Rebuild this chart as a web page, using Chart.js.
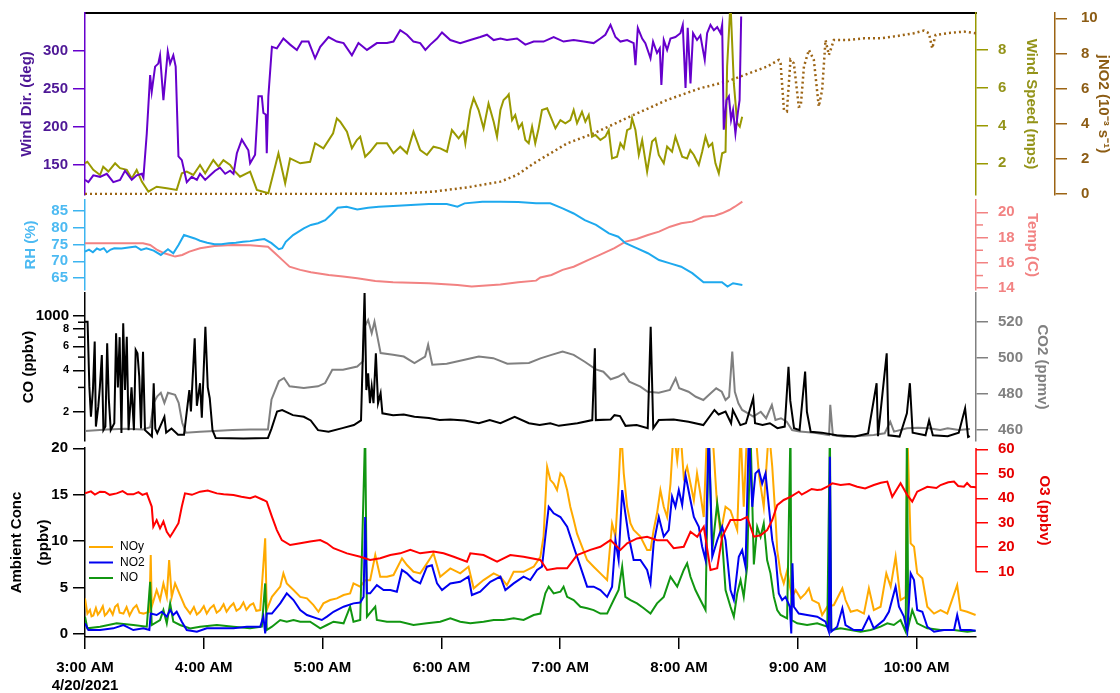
<!DOCTYPE html>
<html>
<head>
<meta charset="utf-8">
<title>Met + trace gases, 4/20/2021</title>
<script src="https://cdn.jsdelivr.net/npm/chart.js@4.4.1/dist/chart.umd.min.js"></script>
<style>
  body { margin: 0; background: #fff; }
  #wrap { position: relative; width: 1120px; height: 693px; }
  #wrap canvas { position: absolute; left: 0; top: 0; }
</style>
</head>
<body>
<div id="wrap">
  <canvas id="windChart" width="1120" height="693"></canvas>
  <canvas id="rhChart" width="1120" height="693"></canvas>
  <canvas id="coChart" width="1120" height="693"></canvas>
  <canvas id="concChart" width="1120" height="693"></canvas>
</div>
<script>
// x values are minutes after 3:00 AM
const tickMinutes = [0, 60, 120, 180, 240, 300, 360, 420];
const timeLabels = ['3:00 AM', '4:00 AM', '5:00 AM', '6:00 AM', '7:00 AM', '8:00 AM', '9:00 AM', '10:00 AM'];
const dateLabel = '4/20/2021';

// tick labels per axis
const windDirTicks = [150, 200, 250, 300];
const windSpeedTicks = [2, 4, 6, 8];
const jno2Ticks = [0, 2, 4, 6, 8, 10];
const rhTicks = [65, 70, 75, 80, 85];
const tempTicks = [14, 16, 18, 20];
const tempMinor = [15, 17, 19];
const coTicks = [200, 400, 600, 800, 1000];
const coTickLabels = ['2', '4', '6', '8', '1000'];
const coMinor = [300, 500, 700, 900];
const co2Ticks = [460, 480, 500, 520];
const concTicks = [0, 5, 10, 15, 20];
const o3Ticks = [10, 20, 30, 40, 50, 60];
const legendNames = ['NOy', 'NO2', 'NO'];

// panel 1 - wind dir (deg), wind speed (mps), jNO2 (1e-3 /s)
const windDir = [[0,130],[1.7,127],[4.2,136],[7.6,134],[11,138],[14.3,127],[17.7,130],[20.2,142],[23.6,130],[26.1,136],[28.7,138],[29.5,133],
  [31.2,191],[32.9,268],[33.7,246],[35.4,279],[37,283],[37.9,294],[39.6,235],[41.8,299],[43,283],[44.6,294],[45.8,279],[47.2,161],[48.9,156],[51.4,127],
  [53.9,134],[56.5,130],[58.1,138],[60.7,130],[63.2,136],[65.7,142],[68.2,146],[70.8,138],[73.3,142],[75,138],
  [76.7,165],[79.2,183],[82.5,169],[83.4,152],[85.9,163],[87.6,240],[89.3,240],[90.1,218],[91.3,216],[91.8,165],[92.6,240],[94.4,305],
  [96.9,303],[100.2,316],[103.6,308],[107,301],[109.5,312],[112.9,312],[116.2,290],[118.8,305],[123,318],[127.2,312],[130.6,310],[134.8,294],[138.1,310],[142.4,301],[147.4,310],[152.5,310],[155.8,312],[159.2,327],[162.6,321],[165.9,312],[169.3,310],
  [171.9,301],[174.4,308],[177.8,316],[180.3,324],[184.5,314],[189.5,310],[194.6,314],[199.6,318],[203,321],[206.4,314],[209.8,316],[213.1,314],[218.2,316],[222.4,308],[226.6,312],[231.6,312],[236.7,318],[241.7,312],[246.8,314],[251.9,312],[256.9,310],[260.3,316],[262.8,321],[265.4,334],[267.9,318],[270.4,312],[273.8,314],[277.1,310],
  [278,281],[279.2,330],[281.4,316],[283,310],[284.7,297],[285.6,290],[286.9,312],[288.9,297],[290.3,303],[291.1,255],[292.3,314],[294,301],[295.7,316],[298.2,318],[300.7,323],[301.9,334],[303.3,251],[304.4,330],[305.8,257],[307.1,323],[309.1,314],[310.8,320],[313,288],[314.2,323],[315.9,334],[317.6,327],[319.3,331],[321,323],[321.8,334],[322.6,196],[324,235],[325.2,240],[326.3,209],[327.3,222],[328.5,191],[329.7,218],[330.6,235],[331.4,345]];

const windSpeed = [[0,2.0],[1.2,2.08],[4.2,1.65],[7.6,1.38],[9.2,1.82],[11.8,1.56],[15.2,2.0],[17.7,1.74],[21.1,1.65],[23.6,1.2],[26.1,1.65],[28.7,1.03],[32,0.5],[36.2,0.76],[41.3,0.68],[46.3,0.59],[48.9,1.47],[51.4,1.56],[54.7,1.38],[58.1,1.91],[60.7,1.47],[64.8,2.17],[67.4,1.82],[69.9,2.17],[73.3,1.91],[75,1.65],[78.3,1.29],[83.4,1.56],[86.8,0.59],[92.6,0.41],[97.7,2.53],[101.1,0.94],[103.6,2.26],[108.7,2.0],[113.7,2.08],[116.2,3.06],[120.4,2.79],[125.3,3.59],[127.2,4.38],[128.9,4.2],[132.3,3.67],[134.8,2.79],[137.3,3.23],[139,3.41],[141.5,2.35],[144,2.61],[147.4,3.06],[152.5,3.06],[155.8,2.53],[159.2,2.88],[162.6,2.53],[165.9,3.67],[169.3,2.7],
  [172.7,2.44],[176,2.88],[179.4,2.79],[182.8,2.61],[185.3,3.76],[188.7,3.32],[191.2,3.67],[192.1,3.06],[194.6,4.82],[196.3,5.44],[198.8,4.82],[201.3,3.85],[203.8,5.17],[206.4,4.2],[208.1,3.41],[209.8,4.82],[211.4,5.35],[213.1,5.52],[214,5.65],[215.7,4.29],[217.3,4.56],[219,3.85],[220.7,4.12],[222.4,3.23],[224.1,3.06],[225.8,3.94],[227.4,3.06],[229.1,3.85],[230.8,4.82],[233.4,4.91],[235.9,4.29],[237.6,3.85],[240.1,4.29],[242.6,4.12],[245.1,4.29],[246.8,4.82],[248.5,4.12],[251,4.73],[252.7,4.2],[254.4,4.56],[256.1,3.41],[257.8,3.5],[260.3,3.23],[262.8,3.41],[264.5,3.76],[266.2,2.26],[268.7,2.35],[270.4,3.06],[272.1,2.79],[273.8,3.76],[275.5,3.85],[276.3,4.38],[278,3.76],[279.7,2.44],[281.4,3.23],[283.9,1.56],[286.4,3.15],[288.1,3.32],[289.8,2.44],[292.3,2.0],[294,2.88],[296.5,2.61],[298.2,3.41],[299.9,2.88],[301.6,2.35],[304.1,2.26],[305.7,2.7],[307.5,2.44],[310,1.91],[311.7,2.61],[313.4,3.41],[315,2.88],[316.8,3.06],[318.4,2.0],[320.1,1.47],[321.8,2.53],[323.5,2.61],[324.3,7.12],[326,10.5],[327.7,6.23],[329.4,4.13],[330.7,3.94],[331.9,4.47]];

const jno2 = [[0,0],[60,0],[120,0],[159.2,0.02],[176,0.13],[192.9,0.37],[209.8,0.7],[218.2,1.08],[226.6,1.74],[243.5,2.88],[257,3.45],[277.1,4.5],[294,5.35],[310.8,6.02],[324.3,6.4],[344.5,7.25],[350.4,7.63],[351.3,7.44],[353,4.78],[354.5,4.7],[356.3,7.63],[358,7.44],[360.5,4.97],[361.5,5.0],[363.1,7.25],[365.6,8.2],[368.1,7.63],[370.6,4.97],[372.3,5.92],[374,8.76],[375.7,7.91],[378.2,8.76],[385,8.76],[393.4,8.86],[401.8,8.86],[410.3,8.99],[418.6,9.15],[423.7,9.3],[426.2,9.15],[427.9,8.29],[429.6,9.05],[435.5,9.15],[443.9,9.24],[450,9.15]];

// panel 2 - RH (%), temp (C)
const rh = [[0,72.9],[2,73.5],[4,72.7],[6,73.8],[7.6,73.4],[9.5,73.9],[11.1,72.7],[13,73.5],[14.8,73.9],[18.4,73.8],[22,74.1],[25.6,74.4],[28.3,73.4],[31,73.9],[34.7,73.2],[38.3,71.9],[41.9,73.6],[44.6,72.4],[47.3,74.9],[50,77.8],[52.7,77.3],[55.4,76.8],[58.1,76.1],[61.7,75.5],[65.4,75.1],[68.9,75.1],[72.6,75.4],[76.2,75.5],[79.8,75.8],[83.4,76],[87,76.3],[90.6,76.6],[94.2,75.4],[97.9,73.6],[99.6,73.9],[101.4,75.8],[105.1,77.8],[110.5,79.8],[114.1,80.8],[117.7,81.3],[121.3,82.2],[124.9,84.2],[127.6,85.9],[132.1,86.2],[137.5,85.4],[143,85.9],[148.4,86.2],[155.6,86.4],[164.6,86.7],[173.7,87],[182.7,87],[188.1,86.2],[191.7,87.2],[200.7,87.7],[209.8,87.7],[218.8,87.6],[227.8,87.2],[235,87.2],[241.2,85.7],[246.8,84.2],[252.4,82.2],[258.1,80.8],[264.6,78.3],[269.3,77.3],[273,75.4],[278.6,73.9],[284.3,72.4],[289.9,70.4],[295.5,69.4],[301.1,68.4],[306.7,66.5],[312.4,63.8],[318,63.8],[321.7,63.8],[324.5,62.5],[327.3,63.5],[332,63]];

const temp = [[0,17.55],[29.3,17.55],[32.9,17.42],[36.5,17.02],[40.1,16.76],[45.5,16.5],[49.1,16.63],[52.7,16.89],[58.1,17.16],[65.4,17.34],[74.4,17.42],[83.4,17.4],[92.4,17.28],[96,16.76],[99.6,16.24],[103.3,15.7],[108.7,15.45],[114.1,15.26],[123.1,15.05],[130.3,14.92],[137.5,14.79],[146.6,14.58],[155.6,14.47],[173.7,14.4],[188.1,14.26],[195.3,14.13],[200.7,14.2],[209.8,14.3],[218.8,14.47],[227.8,14.6],[230,14.85],[235.6,15.05],[241.2,15.45],[246.8,15.7],[254.3,16.24],[260,16.63],[267.4,17.16],[273,17.68],[278.6,17.89],[284.3,18.21],[289.9,18.47],[295.5,18.86],[301.1,19.13],[306.7,19.26],[312.4,19.65],[318,19.73],[321.7,19.92],[325.4,20.18],[328.2,20.44],[332,20.84]];

// panel 3 - CO (ppbv, log axis), CO2 (ppmv)
const co = [[0,908],[1.3,908],[2.2,304],[3,183],[4,287],[4.9,650],[5.5,155],[6.7,217],[7.5,300],[8.5,518],[9.3,146],[10.3,155],[11.2,631],[12,250],[13,146],[14.8,164],[15.7,747],[16.6,300],[17.5,700],[18.4,139],[19.3,884],[20.2,287],[21.1,705],[22,146],[23.5,300],[24.7,146],[25.6,564],[26.5,533],[27.4,359],[28.3,150],[29.3,548],[30.3,146],[31.9,139],[33.8,131],[34.7,322],[35.5,150],[36.5,139],[40.1,183],[41,140],[43.7,150],[47,135],[50,135],[52.7,287],[53.5,200],[55.4,687],[56.5,220],[58.1,322],[59,180],[60.8,835],[62,300],[63,250],[64.4,146],[66,128],[80,127],[92.4,128],[94.2,150],[97,200],[99.6,205],[105,188],[110.5,183],[114,172],[117.7,146],[123,142],[130,151],[135.8,159],[139.4,172],
  [141.2,1500],[142.1,287],[143,380],[143.9,230],[144.8,304],[145.7,230],[146.9,533],[148,230],[149.3,272],[150.2,194],[155.6,188],[161,190],[166.4,183],[173.7,179],[179.1,173],[184.5,175],[191.7,172],[198.9,164],[204.4,173],[209.8,164],[217,183],[224.2,164],[229.6,159],[235,164],[239.3,157],[248.7,164],[256.2,173],[257.5,580],[258,173],[265.5,175],[267.4,188],[270.2,185],[273,157],[278.6,159],[284.2,151],[285.7,835],[287,151],[289.8,173],[297.3,175],[304.8,168],[312.3,159],[317.9,205],[320,190],[323.5,200],[326.3,164],[327.2,205],[331,159],[333.8,164],[337.5,250],[338.4,164],[342.2,159],[345.9,164],[349.7,151],[353.4,155],[355.3,425],[356.2,240],[358.1,151],[360.9,146],[363.7,392],[364.6,199],[366.5,142],[372.1,140],[379.6,134],[388.9,131],[395.5,138],[399.8,322],[400.5,132],[404.9,533],[405.8,134],[411.4,131],[415.1,194],[416.6,322],[418,140],[424.5,134],[426.3,172],[428.2,134],[435.7,132],[441.3,140],[444.5,211],[446,130],[446.9,132]];

const co2 = [[0,459.4],[11.2,460.3],[20.2,460.7],[29.3,460.3],[32.9,461.5],[34.7,475],[36.5,478.7],[38.3,480.6],[40.1,475],[41.9,480.6],[45.5,479.5],[47.3,475],[49.1,464],[50.9,458.5],[58.1,459],[65.4,459.4],[74.4,460],[83.4,460.3],[92.4,460.3],[94.2,476.9],[97.9,487],[100.5,488.8],[103.3,484.2],[110.5,483.3],[117.7,484.2],[121.3,486],[124.9,493.4],[130.3,493.4],[137.5,495.2],[140.3,498],[141.2,517.2],[143,521],[144.8,513.6],[146.2,520],[147.5,512.7],[149.3,502.6],[155.6,501.7],[161,500.7],[166.4,497.1],[171.8,500.7],[173.3,507.2],[175.4,496.2],[182.7,496.7],[191.7,498.9],[198.9,500.7],[206.2,499.8],[213.3,496.7],[224.2,497.1],[230,499.7],[235.6,501.6],[241.2,503.4],[246.8,501.6],[252.4,497.8],[258,493.6],[261.8,492.3],[265.5,488.1],[269.2,489.5],[272.1,491.4],[274.9,486.8],[280.5,484],[284.2,481.2],[289.8,480.7],[295.4,482.2],[298.3,488.6],[300.1,483.1],[304.8,481.2],[308.5,478.4],[312.3,476.6],[316,480.3],[318.8,483.1],[321.6,481.2],[323.5,476.6],[325.3,478.4],[326.9,503.4],[328.2,481.2],[330,474.8],[331.9,471.1],[334.7,469.3],[337.5,467.4],[341.3,470.1],[344,466.5],[346.9,473.9],[348.7,465.5],[351.5,466.5],[354.4,464.6],[357.1,460],[360.9,459.1],[368.4,458.5],[375.8,457.2],[376.4,473.9],[377.7,457.2],[383.3,456.3],[390.8,456.7],[398.3,457.2],[403.9,458.2],[406.7,464.6],[408.6,459.1],[415.1,461],[420.7,461.3],[426.3,461],[431.9,460],[435.7,461],[441.3,460],[446.9,460.5]];

// panel 4 - NOy, NO2, NO (ppbv), O3 (ppbv)
const noy = [[0,3.84],[1.2,2.2],[2.5,2.6],[3.3,1.9],[4.2,2.0],[5.5,2.8],[6.5,2.1],[7.6,2.4],[9,3.0],[10,2.0],[11,2.2],[12.5,2.7],[14,2.1],[15.2,2.94],[16.5,3.2],[17.5,2.3],[19.4,2.2],[21,2.9],[22.5,2.0],[24.4,2.77],[26,3.1],[27.5,2.3],[29.5,2.2],[32.5,2.4],[33.2,8.5],[33.7,2.94],[36.2,4.74],[37.9,3.66],[39.6,5.45],[41.3,4.0],[42.5,7.97],[43.8,4.0],[45.5,5.45],[48,4.2],[50.5,2.94],[53.1,2.2],[55,2.9],[56.5,2.1],[58.1,2.4],[60,3.0],[61.5,2.2],[63.2,2.77],[65,3.1],[66.5,2.3],[68.2,2.58],[70,3.2],[71.5,2.4],[73.3,2.94],[75,3.3],[76.5,2.5],[78.3,2.77],[80,3.4],[81.5,2.6],[83.4,3.12],[85,3.3],[86.5,2.5],[88.5,2.58],[91,10.3],[91.8,2.58],[94.4,4.0],[98.6,5.1],[100.2,6.53],[101.9,5.45],[105.3,4.74],[108.7,4.0],[112.1,3.84],[115.4,3.12],[117.9,2.4],[120.4,3.3],[123.8,3.66],[127.2,3.84],[130.6,4.2],[133.9,4.38],[135.6,5.45],[139,5.1],[141.5,5.8],[144,5.8],[146.6,8.5],[149.1,6.17],[152.5,6.17],[155.8,6.35],[160.1,8.15],[162.6,7.43],[165.9,6.7],[169.3,6.53],[172.7,7.61],[176,8.69],[179.4,6.17],[184.5,7.07],[189.5,6.53],[193.7,7.25],[196.3,4.92],[201.3,5.81],[206.4,6.53],[209.8,6.17],[213.1,5.27],[216.5,6.7],[221.5,6.7],[226.6,7.25],[230,8.32],[231.6,10.5],[233.4,18],[235,16.6],[236.7,16.2],[238.4,15.5],[240.1,17.3],[241.7,16.9],[243.5,15.5],[245.1,13.7],[246.8,12.3],[248.5,10.8],[251,9.4],[253.6,7.97],[256.9,7.25],[260.3,6.53],[263.7,5.81],[266.2,11.9],[267.9,10.5],[269.5,16.2],[270.8,22],[272.1,17.3],[273.8,13.7],[275.5,11.9],[277.1,11.2],[280.5,10.5],[283.9,9.04],[285.6,9.04],[287.2,11.2],[288.9,13],[290.6,15.5],[292.3,13.7],[294,12.6],[295.7,16.2],[297.3,22],[299.1,18.7],[300.7,22],[302.4,16.9],[304.1,18],[307.5,14.4],[309.1,17.3],[310.8,15.1],[312.5,12.6],[314.2,22],[316.8,22],[319.3,13.7],[321,10.8],[323.5,13.7],[326,13.3],[329.4,11.2],[331.1,22],[332.7,13.7],[334.4,22],[337,22],[338.6,22],[340.3,17.3],[342.8,13.7],[345.4,22],[347.1,18],[348.8,12.3],[349.6,9.04],[351.3,6.53],[352.9,5.45],[354.7,6.9],[356,5.1],[357.2,4.0],[358.9,4.74],[361.4,3.84],[363.9,4.38],[365.6,4.92],[367.3,3.66],[370.6,3.3],[372.3,2.05],[374.9,2.94],[378.2,3.12],[382.5,4.92],[384.1,3.66],[386.7,2.4],[390,2.58],[393.4,2.2],[395.9,4.92],[398.4,2.58],[401.8,2.94],[404.7,6.53],[406.9,5.1],[409.4,8.32],[411.9,3.66],[414.5,4.0],[415.3,22],[417,9.76],[418.7,9.4],[420.3,6.53],[422.9,6.0],[425.4,2.94],[428.8,2.2],[432.1,2.58],[435.5,2.2],[440.5,5.27],[442.2,2.58],[445.5,2.4],[449.8,2.05]];

const no2 = [[0,1.15],[1.7,0.43],[7.6,0.43],[14.3,0.61],[19.4,0.97],[24.4,0.43],[29.5,0.61],[32.5,0.43],[33.2,2.2],[36.2,2.05],[38.8,2.4],[41.3,1.87],[43,2.58],[44.6,2.05],[46.3,2.4],[48.9,1.33],[51.4,0.43],[56.5,0.25],[61.5,0.61],[68.2,0.61],[75,0.61],[81.7,0.79],[88.5,0.79],[90.1,1.87],[91,0.07],[91.8,2.2],[94.4,2.2],[98.6,3.3],[101.9,4.38],[105.3,3.66],[108.7,2.58],[112.1,2.05],[117.1,1.69],[119.6,1.51],[122.2,1.87],[125.5,2.4],[130.6,2.94],[135.6,3.3],[139,3.4],[140.7,4.0],[141.5,12.6],[142.4,4.38],[144,4.38],[147.4,5.27],[150.8,4.74],[154.2,4.74],[157.5,4.56],[160.1,6.9],[162.6,6.53],[165.9,5.81],[169.3,5.45],[172.7,7.25],[175.2,7.4],[177.8,5.45],[180.3,4.74],[184.5,5.45],[189.5,5.63],[193.7,6.17],[195.4,4.2],[199.6,4.56],[204.7,5.63],[209.8,6.17],[212.3,4.74],[216.5,5.45],[221.5,6.17],[224.9,5.81],[228.3,6.9],[230.8,7.25],[232.5,10.47],[234.2,13.7],[236.7,13],[240.1,12.6],[243.5,11.55],[246.8,9.4],[250.2,7.25],[253.6,5.1],[256.9,5.1],[260.3,4.74],[263.7,4.0],[266.2,5.1],[267.9,10.1],[269.5,7.97],[271.3,15.5],[272.9,13],[274.6,10.5],[277.1,7.97],[280.5,7.97],[283.9,6.9],[285.6,5.45],[287.2,9.76],[289.8,12.6],[292.3,10.5],[294.8,11.2],[296.5,14.8],[298.2,13.7],[299.9,15.5],[301.6,13.9],[303.3,17.1],[305.8,14.4],[307.5,12.6],[310,11.55],[311.7,9.4],[313.4,7.97],[315,22],[316.8,8.32],[319.3,10.1],[321.8,11.55],[323.5,10.1],[326,4.74],[327.7,3.66],[330.2,8.32],[331.9,9.04],[333.6,7.25],[335.3,22],[337,13.7],[338.6,17.3],[340.3,17.65],[342,16.2],[343.7,17.3],[345.4,13.7],[347.1,10.1],[348.8,8.32],[350.4,4.38],[352.1,3.66],[353.8,4.0],[356,2.94],[356.7,0.07],[357.3,7.61],[358,2.94],[360.5,2.2],[364.7,2.05],[369.8,1.87],[374,1.33],[375.7,0.25],[376.2,19.1],[376.9,0.25],[379.9,0.79],[382.5,2.77],[384.1,0.97],[388.3,0.43],[392.6,0.43],[395.9,1.87],[398.4,0.61],[403.5,1.51],[406,2.4],[409.4,5.1],[411.1,2.94],[413.6,1.87],[415.3,0.25],[417,6.53],[418.7,5.81],[420.3,2.58],[422.9,2.4],[425.4,0.79],[428.8,0.25],[433.8,0.43],[438.9,0.43],[440.5,2.05],[442.2,0.43],[447.3,0.43],[449.8,0.36]];

const no = [[0,1.87],[1.2,0.61],[7.6,0.79],[16,1.15],[24.4,0.97],[31.2,0.79],[32.9,5.63],[33.7,0.97],[37.9,1.51],[39.6,2.58],[41.3,1.15],[43,3.3],[44.6,1.33],[48,0.97],[53.1,0.61],[58.1,0.79],[66.6,0.97],[75,0.79],[83.4,0.61],[89.3,0.79],[91,5.45],[91.8,0.43],[94.4,0.79],[98.6,1.51],[101.9,1.33],[105.3,1.51],[108.7,1.33],[113.7,1.33],[118.8,0.61],[122.2,0.97],[125.5,1.33],[130.6,1.15],[133.9,2.94],[135.6,1.33],[139,1.51],[141.5,22],[142.4,1.87],[146.6,2.94],[147.4,1.51],[152.5,1.33],[159.2,1.33],[165.9,0.97],[172.7,1.15],[179.4,1.33],[184.5,1.69],[189.5,1.33],[194.6,1.15],[201.3,1.33],[206.4,1.51],[211.4,1.51],[216.5,1.69],[221.5,1.51],[226.6,2.05],[230,2.2],[232.5,4.38],[234.2,5.1],[236.7,4.38],[240.1,4.56],[241.7,5.1],[243.5,4.0],[246.8,3.66],[250.2,2.94],[253.6,2.77],[256.9,2.58],[260.3,2.2],[263.7,2.2],[267,3.66],[269.5,4.74],[271.3,7.25],[272.9,4.0],[275.5,3.66],[278.8,3.3],[282.2,2.77],[285.6,2.2],[288.9,3.3],[292.3,4.0],[295.7,6.17],[299.1,5.1],[302.4,6.9],[304.1,7.61],[305.8,6.17],[308.3,4.74],[310.8,3.66],[313.4,2.58],[315,22],[316.8,9.04],[319.3,14.1],[321.8,10.1],[323.5,4.74],[326,2.94],[327.7,1.87],[329.4,4.38],[331.1,5.81],[332.7,4.0],[334.4,7.25],[336.1,22],[337.8,7.5],[339.5,11.55],[341.2,10.47],[342.8,11.9],[344.5,7.97],[346.2,6.53],[347.9,4.0],[349.6,2.58],[351.3,2.05],[354.6,1.69],[356.3,22],[356.8,1.51],[359.7,1.15],[364.7,0.97],[369.8,1.15],[374.9,0.79],[376.2,22],[376.9,0.43],[381.6,0.61],[386.7,0.43],[391.7,0.25],[396.8,0.43],[401.8,0.79],[405.2,1.15],[408.5,0.97],[411.9,1.51],[414.5,0.25],[415.1,22],[415.8,0.79],[417.8,2.58],[420.3,1.15],[425.4,0.61],[432.1,0.43],[438.9,0.43],[445.6,0.25],[449.8,0.36]];

const o3 = [[0,42],[3,42.8],[5,41.5],[7.6,42.7],[10,42.6],[12.5,41.4],[16,42],[19,42.9],[21.5,41.6],[24.4,41.6],[27,42.5],[29,41.4],[31.2,42],[33.7,36.6],[34.5,28.4],[36.2,31.1],[37.9,27.7],[39.6,30.5],[41.3,26.3],[43,24.3],[44.6,26.3],[47.2,29.8],[48.9,36.6],[50.5,42],[54,41.4],[58.1,42.7],[62,43.2],[66.6,42],[70,41.6],[75,41.3],[79,40.6],[83.4,40],[86,40.8],[90.1,39.3],[91.8,38.6],[94.4,32.5],[96.9,27],[99.4,22.9],[103.6,20.9],[108.7,21.6],[113.7,22.3],[118.8,22.9],[122.2,21.6],[125.5,19.6],[132.3,17.5],[139,16.1],[144,14.8],[149.1,15.5],[154.2,16.8],[159.2,17.5],[164.3,18.9],[169.3,17.5],[176,18.2],[181.1,17.5],[186.2,16.1],[192.9,14.1],[194.6,17.5],[201.3,16.8],[208.1,14.1],[214.8,16.8],[221.5,16.1],[230,14.8],[233.4,10.7],[238.4,11.4],[243.5,11.4],[248.5,16.8],[255.2,18.9],[260.3,20.2],[265.4,22.9],[270.4,18.9],[273.8,21.6],[278.8,23.6],[283.9,24.3],[288.9,22.9],[294,22.9],[297.3,19.6],[302.4,20.2],[305.8,26.3],[309.2,24.3],[312.5,28.4],[315.9,10.7],[319.3,11.4],[321.8,24.3],[326,31.1],[331.1,31.1],[334.4,32.4],[337.8,24.3],[341.2,24.9],[344.5,27],[347.1,31.1],[349.6,37.2],[352.9,39.3],[356.3,40.6],[360.5,42.7],[362,41.5],[364.7,42.7],[367,43.8],[369.8,43.4],[372,43.6],[374.9,44.7],[377.4,46.1],[381.6,45.4],[386,45.8],[390,44.7],[394,44],[398.4,45.4],[402,46.3],[405.2,46.8],[407.7,40.6],[411.9,46.1],[415.3,41.3],[417.8,38.6],[420.3,42.7],[425.4,44.7],[430,44.2],[432.1,45.4],[436,46.5],[438.9,46.8],[441,45],[443.9,44.7],[445.5,46.2],[447.3,44.7],[450,44.5]];

// colours
const purple = '#6600cc', olive = '#999900', brown = '#9c6414';
const rhBlue = '#1ea9ee', salmon = '#f28282', grey = '#808080';
const orange = '#ffaa00', blue = '#0000f0', green = '#119611', red = '#ff0000';

const FONT = "'Liberation Sans', Arial, sans-serif";
Chart.defaults.font.family = FONT;
Chart.defaults.font.size = 15;
Chart.defaults.font.weight = 'bold';
Chart.defaults.animation = false;

const LEFT_W = 85;
const RIGHT_W = 144;
const X_MAX = 450;

function series(label, pairs, color, axis, extra) {
  const sorted = pairs.slice().sort((a, b) => a[0] - b[0]);
  return Object.assign({
    label: label,
    data: sorted.map(p => ({x: p[0], y: p[1]})),
    yAxisID: axis,
    borderColor: color,
    borderWidth: 2,
    pointRadius: 0,
    tension: 0,
    fill: false
  }, extra || {});
}

function fixedTicks(values) {
  return function (scale) {
    scale.ticks = values.map(v => ({value: v}));
  };
}

function fixWidth(w) {
  return function (scale) {
    scale.width = w;
    scale.paddingTop = 0;
    scale.paddingBottom = 0;
  };
}

function yAxis(pos, min, max, color, textColor, title, titlePad, width, ticks, extra) {
  return Object.assign({
    type: 'linear',
    position: pos,
    min: min,
    max: max,
    border: {color: color, width: 1.5},
    grid: {drawOnChartArea: false, drawTicks: true, tickLength: 12, color: color, lineWidth: 1.5},
    ticks: {color: textColor, padding: pos === 'left' ? 5 : 10, autoSkip: false},
    title: {display: title !== '', text: title, color: textColor, padding: {top: titlePad, bottom: 0}},
    afterBuildTicks: fixedTicks(ticks),
    afterFit: fixWidth(width)
  }, extra || {});
}

function hiddenX() {
  return {type: 'linear', min: 0, max: X_MAX, display: false};
}

function minorTicks(chart, id, values, len, color) {
  const s = chart.scales[id];
  const ctx = chart.ctx;
  ctx.save();
  ctx.strokeStyle = color;
  ctx.lineWidth = 1.5;
  values.forEach(v => {
    const y = s.getPixelForValue(v);
    ctx.beginPath();
    if (s.position === 'left') {
      ctx.moveTo(s.right - len, y); ctx.lineTo(s.right, y);
    } else {
      ctx.moveTo(s.left, y); ctx.lineTo(s.left + len, y);
    }
    ctx.stroke();
  });
  ctx.restore();
}

function makeChart(id, datasets, scales, padTop, padBottom, plugins) {
  return new Chart(document.getElementById(id).getContext('2d'), {
    type: 'line',
    data: {datasets: datasets},
    options: {
      responsive: false,
      devicePixelRatio: 1,
      parsing: false,
      layout: {padding: {top: padTop, bottom: padBottom, left: 0, right: 0}},
      plugins: {legend: {display: false}, tooltip: {enabled: false}},
      scales: scales
    },
    plugins: plugins || []
  });
}

// ---- panel 1: wind ----
makeChart('windChart', [
  series('Wind Dir.', windDir, purple, 'dir'),
  series('Wind Speed', windSpeed, olive, 'speed'),
  series('jNO2', jno2, brown, 'jno2', {borderWidth: 2.5, borderDash: [2, 3]})
], {
  x: {type: 'linear', min: 0, max: X_MAX, position: 'top',
      ticks: {display: false}, grid: {display: false},
      border: {color: '#000', width: 2},
      afterFit: s => { s.height = 0; s.paddingLeft = 0; s.paddingRight = 0; }},
  dir: yAxis('left', 110.1, 349.6, purple, '#4e1896', 'Wind Dir. (deg)', 18, LEFT_W, windDirTicks),
  speed: yAxis('right', 0.32, 9.96, olive, '#939319', 'Wind Speed (mps)', 15, 79, windSpeedTicks),
  jno2: yAxis('right', -0.06, 10.3, brown, '#8c5c14', 'jNO2 (10\u207B\u00B3 s\u207B\u00B9)', 8, RIGHT_W - 79, jno2Ticks,
              {ticks: {color: '#8c5c14', padding: 14, autoSkip: false}})
}, 13, 498);

// ---- panel 2: RH and temperature ----
makeChart('rhChart', [
  series('RH', rh, rhBlue, 'rh'),
  series('Temp', temp, salmon, 'temp')
], {
  x: hiddenX(),
  rh: yAxis('left', 61.5, 88.2, '#3cb4f0', '#4cbaf2', 'RH (%)', 22, LEFT_W, rhTicks),
  temp: yAxis('right', 13.86, 20.97, salmon, salmon, 'Temp (C)', 79, RIGHT_W, tempTicks)
}, 200, 403, [{
  id: 'tempMinor',
  afterDraw(chart) { minorTicks(chart, 'temp', tempMinor, 7, salmon); }
}]);

// ---- panel 3: CO and CO2 ----
makeChart('coChart', [
  series('CO', co, '#000000', 'co'),
  series('CO2', co2, grey, 'co2')
], {
  x: hiddenX(),
  co: yAxis('left', 121.6, 1473, '#000', '#000', 'CO (ppbv)', 20, LEFT_W, coTicks, {
    type: 'logarithmic',
    ticks: {
      color: '#000', padding: 4, autoSkip: false,
      font: c => (c.tick && c.tick.value === 1000) ? {size: 15, weight: 'bold'} : {size: 11, weight: 'bold'},
      callback: v => coTickLabels[coTicks.indexOf(v)]
    }
  }),
  co2: yAxis('right', 453.9, 535.9, grey, grey, 'CO2 (ppmv)', 69, RIGHT_W, co2Ticks)
}, 293, 252, [{
  id: 'coMinor',
  afterDraw(chart) { minorTicks(chart, 'co', coMinor, 7, '#000'); }
}]);

// ---- panel 4: nitrogen species and ozone ----
const concExtras = {
  id: 'concExtras',
  afterDraw(chart) {
    const ctx = chart.ctx;
    const area = chart.chartArea;
    const s = chart.scales.o3;
    ctx.save();
    // ozone axis line only covers the labelled range
    ctx.strokeStyle = red;
    ctx.lineWidth = 1.5;
    ctx.beginPath();
    ctx.moveTo(s.left, area.top);
    ctx.lineTo(s.left, s.getPixelForValue(o3Ticks[0]));
    ctx.stroke();
    ctx.fillStyle = '#e60000';
    ctx.font = 'bold 15px ' + FONT;
    ctx.textAlign = 'center';
    ctx.textBaseline = 'middle';
    ctx.translate(s.left + 68, s.getPixelForValue(35));
    ctx.rotate(Math.PI / 2);
    ctx.fillText('O3 (ppbv)', 0, 0);
    ctx.restore();

    // legend
    ctx.save();
    ctx.font = '12px ' + FONT;
    ctx.textBaseline = 'middle';
    legendNames.forEach((name, i) => {
      const ds = chart.data.datasets.find(d => d.label === name);
      const y = area.top + 99 + i * 15.5;
      ctx.strokeStyle = ds.borderColor;
      ctx.lineWidth = 2;
      ctx.beginPath();
      ctx.moveTo(area.left + 4, y);
      ctx.lineTo(area.left + 28, y);
      ctx.stroke();
      ctx.fillStyle = '#000';
      ctx.fillText(name, area.left + 35, y);
    });
    ctx.restore();
  }
};

makeChart('concChart', [
  series('O3', o3, red, 'o3'),
  series('NO2', no2, blue, 'conc'),
  series('NO', no, green, 'conc'),
  series('NOy', noy, orange, 'conc')
], {
  x: {
    type: 'linear', min: 0, max: X_MAX, position: 'bottom',
    border: {color: '#000', width: 1.5},
    grid: {drawOnChartArea: false, drawTicks: true, tickLength: 12, color: '#000', lineWidth: 1.5},
    ticks: {
      color: '#000', padding: 10, autoSkip: false, maxRotation: 0,
      callback: (v, i) => i === 0 ? [timeLabels[0], dateLabel] : timeLabels[i]
    },
    afterBuildTicks: fixedTicks(tickMinutes),
    afterFit: s => { s.height = 56; s.paddingLeft = 0; s.paddingRight = 0; }
  },
  conc: yAxis('left', -0.32, 20.03, '#000', '#000', ['Ambient Conc', '(ppbv)'], 4, LEFT_W, concTicks, {
    title: {display: true, text: ['Ambient Conc', '(ppbv)'], color: '#000',
            font: {size: 15, weight: 'bold', lineHeight: 1.75}, padding: {top: 4, bottom: 0}}
  }),
  o3: yAxis('right', -16.67, 60.53, red, '#e60000', '', 0, RIGHT_W, o3Ticks, {
    border: {display: false}
  })
}, 448, 0, [concExtras]);
</script>
</body>
</html>
